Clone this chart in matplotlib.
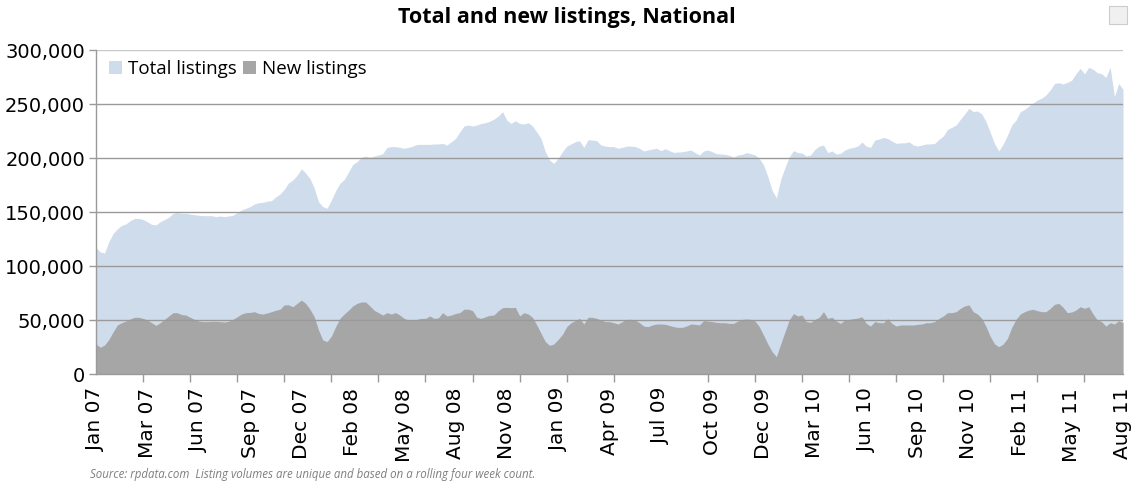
import matplotlib
matplotlib.use("Agg")
import matplotlib.pyplot as plt
import numpy as np
from matplotlib.patches import Rectangle

# Weekly values (thousands), Jan 2007 .. Aug 2011
total_k = [
    117, 113, 112, 122.5, 130, 134.5, 137.6, 139, 142, 144,
    144, 143, 141, 138.5, 138, 141, 143, 145, 148.7, 149.4,
    148.7, 148.7, 148, 147.5, 147, 146.6, 146.6, 146.6, 145.7, 146.3,
    145.7, 146.3, 147, 149.4, 151.8, 153.4, 155, 157.4, 158.6, 159,
    160, 160.5, 164, 166.6, 171, 177, 179.6, 184, 190, 186,
    181, 172, 159.5, 155, 153.4, 161, 169.7, 176.5, 180, 187,
    194, 196.6, 200.6, 201.8, 200.6, 201.8, 202.8, 204, 209.8, 210.5,
    210.5, 209.8, 209, 209.8, 211, 212.6, 212.6, 212.6, 212.6, 213,
    213, 213.5, 212, 215, 218, 224, 229.6, 230.5, 229.6, 230.5,
    232, 232.7, 234, 236, 238.8, 242.9, 235, 232, 234.5, 232,
    231.4, 232.7, 229.6, 224, 218, 205.8, 198, 195, 199.7, 205.8,
    211, 213, 215, 216, 209.8, 217, 216.6, 216, 212, 211,
    210.5, 210.5, 209, 209.8, 211, 211, 210.5, 209, 206.5, 207.4,
    208.3, 209, 206.8, 208.6, 206.8, 205.2, 205.5, 205.8, 206.5, 207.4,
    205, 202.8, 206.5, 207.4, 205.8, 204, 203.7, 203.4, 202.4, 201,
    202.8, 203.4, 205, 204, 202.8, 199.7, 193.5, 182.7, 170, 163,
    180, 191, 201, 206.8, 205, 204.6, 201.8, 202.8, 208, 211,
    212, 205, 206.5, 203.7, 204.3, 207.4, 209, 209.8, 211, 214.8,
    211, 209.8, 216.6, 217.6, 219, 218, 215.7, 213.5, 214, 214,
    215, 212, 211, 212, 213, 213, 213.5, 217.3, 220.3, 226.5,
    228.4, 230.6, 235.8, 240.7, 246, 243, 243.5, 240.7, 233.6, 223.4,
    213, 206.5, 213, 221, 230.5, 235, 242.9, 245, 248, 251,
    253.7, 255.5, 258.3, 263, 269, 269.7, 268.5, 270, 272, 278,
    283, 278, 284, 282, 279, 278, 274.6, 284, 256.7, 269,
    263.5,
]
new_k = [
    27.8, 24.7, 26.8, 32, 39, 45.4, 47.5, 49, 51, 52.5,
    52.5, 51.5, 50, 47.5, 45, 47.5, 50.6, 53.7, 56.8, 56.8,
    55, 54.6, 52.5, 50.6, 49, 48.5, 48.5, 48.8, 48.8, 48.5,
    48.1, 48.8, 50.6, 53, 55.5, 56.8, 57, 57.7, 56, 55.5,
    56.5, 57.7, 59, 60, 64, 64, 62.3, 65.4, 68.5, 65.4,
    60, 53, 40.7, 31.5, 30, 35, 43.8, 51.5, 55.5, 59,
    63, 65.4, 66.7, 66.7, 63, 59, 56.8, 54.6, 56.8, 55.5,
    56.8, 54.6, 51.5, 50, 49.4, 50.6, 51.5, 51.5, 53.7, 51.5,
    52, 56.8, 53.7, 54.6, 56, 56.8, 60, 60, 58.6, 52.5,
    51.5, 53, 54.3, 54.6, 58.6, 61.4, 61.7, 61.4, 61.7, 53.7,
    56.8, 55.5, 52.5, 45.4, 37.6, 30, 26.5, 27.8, 32, 36.7,
    43.8, 47.5, 49.4, 51.5, 46.3, 52.5, 52.5, 51.5, 50, 48.5,
    48.5, 47.5, 46.3, 48.5, 50.6, 50.6, 50, 47.5, 44.4, 43.8,
    45.4, 46.3, 46.3, 46, 45, 43.8, 43.2, 43.2, 44.4, 46.3,
    46, 45.4, 49.4, 49, 48.5, 47.8, 47.5, 47.5, 46.9, 46.9,
    49, 50.6, 50.9, 50.6, 49, 43.8, 36, 27.8, 20.7, 16,
    27.8, 39, 50, 56, 53.7, 54.6, 48.5, 47.8, 50.6, 52.5,
    57.7, 51.5, 52.5, 49, 46.9, 50, 50.6, 51.2, 51.8, 53,
    46.9, 44.4, 48.5, 47.5, 47.5, 51.2, 46.9, 44.4, 45.4, 45.4,
    45.4, 45.4, 46, 46.3, 47.5, 47.5, 48.5, 51.5, 53.7, 56.8,
    56.8, 57.7, 60.8, 63, 64, 57.7, 55.5, 51.5, 43.8, 34.6,
    27.8, 25.3, 27.8, 33, 43.2, 50.6, 55.5, 57.7, 59.2, 59.9,
    58.6, 57.7, 57.7, 60.8, 64.5, 65.4, 61.7, 56.8, 57.4, 59.2,
    62.3, 60.8, 62.3, 55.5, 50, 48.5, 44.4, 47.5, 46.3, 49.4,
    47.5,
]
tick_labels = ["Jan 07", "Mar 07", "Jun 07", "Sep 07", "Dec 07", "Feb 08", "May 08",
               "Aug 08", "Nov 08", "Jan 09", "Apr 09", "Jul 09", "Oct 09", "Dec 09",
               "Mar 10", "Jun 10", "Sep 10", "Nov 10", "Feb 11", "May 11", "Aug 11"]
y_ticks = [0, 50000, 100000, 150000, 200000, 250000, 300000]

total = np.array(total_k) * 1000
new = np.array(new_k) * 1000
x = np.arange(len(total))

fig = plt.figure(figsize=(11.38, 4.90), dpi=100)
ax = fig.add_axes([96/1138, 1-374/490, (1123-96)/1138, (374-50)/490])

ax.fill_between(x, 0, total, color="#cfdcec", linewidth=0, label="Total listings", zorder=1)
ax.fill_between(x, 0, new, color="#a6a6a6", linewidth=0, label="New listings", zorder=2)

ax.set_xlim(0, len(total) - 1)
ax.set_ylim(0, 300000)
ax.set_yticks(y_ticks)
ax.set_yticklabels([f"{v:,}" for v in y_ticks], fontsize=14, family="DejaVu Sans")
for v in y_ticks[1:]:
    ax.axhline(v, color="#c8c8c8" if v == 300000 else "#9a9a9a", lw=1.0, zorder=3)

ax.set_xticks(np.arange(0, len(total), 12))
ax.set_xticklabels(tick_labels, rotation=90, fontsize=14.5, family="DejaVu Sans")
ax.set_xticks(np.arange(0, len(total), 11), minor=True)
ax.tick_params(axis="x", which="major", length=0, pad=10)
ax.tick_params(axis="x", which="minor", length=6, color="#9a9a9a", width=1)
ax.tick_params(axis="y", length=5, color="#9a9a9a", width=1, pad=3)

for s in ["top", "right"]:
    ax.spines[s].set_visible(False)
for s in ["left", "bottom"]:
    ax.spines[s].set_color("#9a9a9a")
    ax.spines[s].set_linewidth(1)
    ax.spines[s].set_zorder(4)

leg = ax.legend(loc="upper left", bbox_to_anchor=(-0.004, 1.02), ncol=2, frameon=False,
                prop={"family": "Open Sans", "size": 13.5}, handlelength=0.7, handleheight=0.7,
                handletextpad=0.3, columnspacing=0.35, borderaxespad=0.5)

fig.text(567/1138, 1-18/490, "Total and new listings, National", ha="center", va="center",
         fontsize=15.5, fontweight="bold", family="Open Sans")
fig.text(90/1138, 1-474/490,
         "Source: rpdata.com  Listing volumes are unique and based on a rolling four week count.",
         ha="left", va="center", fontsize=8.3, style="italic", color="#7f7f7f", family="Open Sans")

# small expand icon at top-right
fig.patches.append(Rectangle((1109/1138, 1-24/490), 18/1138, 18/490, transform=fig.transFigure,
                             facecolor="#f0f0f0", edgecolor="#cccccc", lw=0.8))

fig.savefig("out.png", dpi=100)
